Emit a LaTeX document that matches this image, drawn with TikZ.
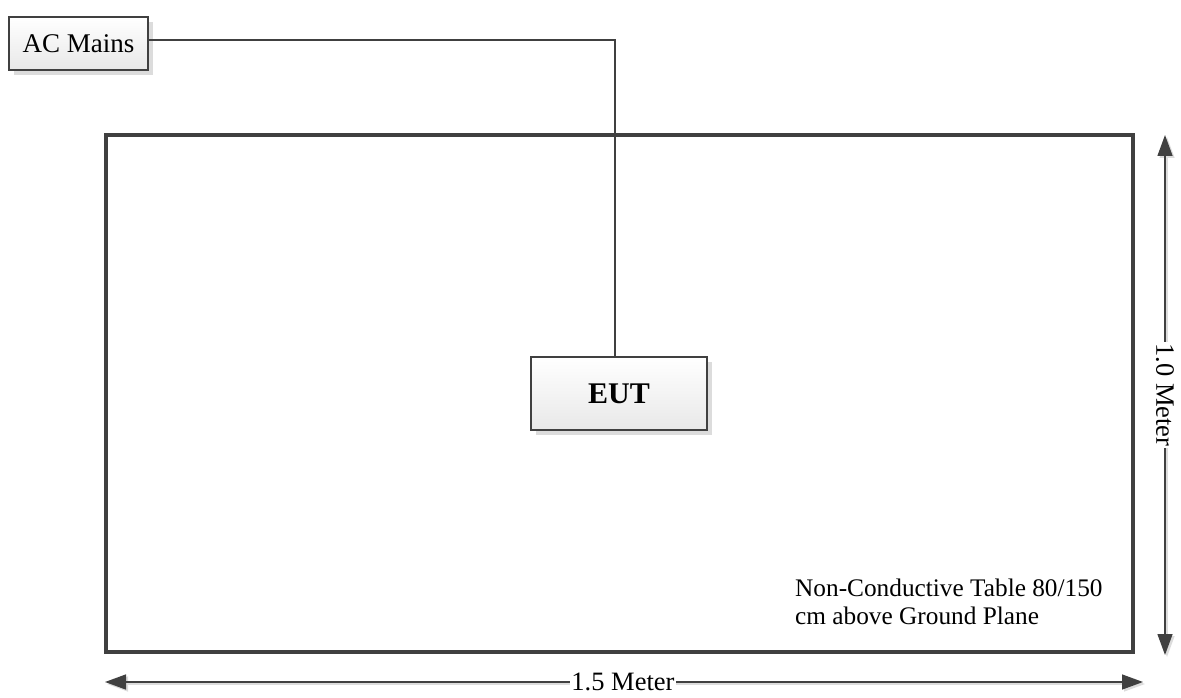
\documentclass[tikz,border=0pt]{standalone}
\usepackage{fontspec}
\setmainfont{Liberation Serif}
\usetikzlibrary{arrows.meta,shadows}
\definecolor{linec}{HTML}{404040}
\definecolor{shadowc}{HTML}{DCDCDC}
\definecolor{boxbot}{HTML}{E8E8E8}
\tikzset{
  boxnode/.style={draw=linec, line width=2.2pt, top color=white, bottom color=boxbot,
    drop shadow={shadow xshift=5pt, shadow yshift=-5pt, fill=shadowc, opacity=1},
    inner sep=0pt},
  wire/.style={draw=linec, line width=1.8pt},
  dimarrow/.style={draw=linec, line width=1.4pt, {Triangle[length=21pt,width=15pt]}-{Triangle[length=21pt,width=15pt]}},
  dimshadow/.style={draw=shadowc, line width=1.4pt, {Triangle[length=21pt,width=15pt]}-{Triangle[length=21pt,width=15pt]}},
  dimlabel/.style={fill=white, inner sep=1pt, font=\fontsize{26.5}{30}\selectfont}
}
\begin{document}
\begin{tikzpicture}[x=1pt,y=-1pt]
\useasboundingbox (0,0) rectangle (1181,698);
% table
\node[draw=linec, line width=3.2pt, minimum width=1027pt, minimum height=517pt, inner sep=0pt] (table) at (619.5,393.5) {};
% boxes
\node[boxnode, minimum width=139pt, minimum height=53pt, font=\fontsize{27}{30}\selectfont] (ac) at (78.5,43.5) {AC Mains};
\node[boxnode, minimum width=176pt, minimum height=73pt, font=\fontsize{30}{34}\selectfont\bfseries] (eut) at (619,393.5) {EUT};
% wire
\draw[wire] ([yshift=3.5pt]ac.east) -| ([xshift=-4pt]eut.north);
% label
\node[anchor=north west, align=left, inner sep=0pt, font=\fontsize{25.3}{27.5}\selectfont] (lbl) at (795,579) {Non-Conductive Table 80/150\\cm above Ground Plane};
% dimension arrows
\coordinate (vt) at (1165,135);
\coordinate (vb) at (1165,655);
\coordinate (hl) at (105,682);
\coordinate (hr) at (1143,682);
\draw[dimshadow] ([shift={(2,2)}]vt) -- ([shift={(2,2)}]vb);
\draw[dimshadow] ([shift={(2,2)}]hl) -- ([shift={(2,2)}]hr);
\draw[dimarrow] (vt) -- (vb);
\draw[dimarrow] (hl) -- (hr);
\node[dimlabel, rotate=-90] (vlab) at (1165,395) {1.0 Meter};
\node[dimlabel] (hlab) at (623,682) {1.5 Meter};
\end{tikzpicture}
\end{document}
